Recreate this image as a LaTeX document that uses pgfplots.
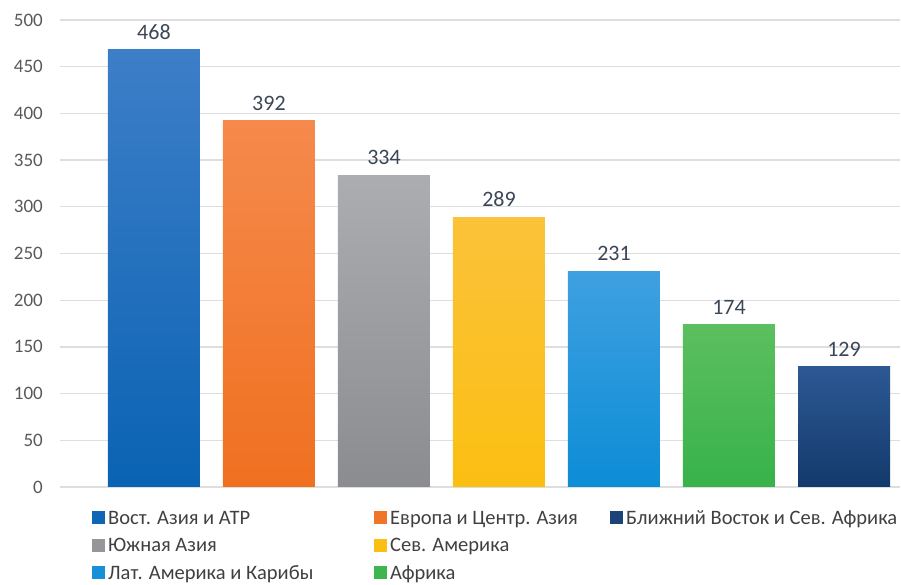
\documentclass[border=0pt]{standalone}
\usepackage{fontspec}
\setmainfont{Carlito}
\usepackage{pgfplots}
\pgfplotsset{compat=1.18}

\definecolor{gridc}{HTML}{DEDEDE}
\definecolor{tickc}{HTML}{595959}
\definecolor{labc}{HTML}{3B4656}
\definecolor{legc}{HTML}{404040}
% top / bottom colours of the shaded bars
\definecolor{aT}{HTML}{3D7EC8}\definecolor{aB}{HTML}{0A63B3}
\definecolor{bT}{HTML}{F58A4C}\definecolor{bB}{HTML}{F07020}
\definecolor{cT}{HTML}{ABADB0}\definecolor{cB}{HTML}{8A8C8F}
\definecolor{dT}{HTML}{FBC23A}\definecolor{dB}{HTML}{FBBF12}
\definecolor{eT}{HTML}{3FA0E0}\definecolor{eB}{HTML}{0C8DD6}
\definecolor{fT}{HTML}{5CBF5E}\definecolor{fB}{HTML}{38B24A}
\definecolor{gT}{HTML}{2C5893}\definecolor{gB}{HTML}{133A6C}

\pgfplotsset{
  onebar/.style n args={2}{ybar, bar width=92pt, bar shift=0pt, draw=none,
    top color=#1, bottom color=#2, forget plot},
  sq/.style={legend image code/.code={\fill[#1, draw=none] (0pt,-6.5pt) rectangle (13pt,6.5pt);}},
}

\begin{document}
\begin{tikzpicture}
\path[use as bounding box] (0,0) rectangle (901pt,585pt);
\begin{axis}[
  at={(60pt,98pt)}, anchor=south west,
  scale only axis, width=840pt, height=467pt,
  xmin=-0.817, xmax=6.487, ymin=0, ymax=500,
  ytick={0,50,...,500}, xtick=\empty,
  ymajorgrids, major grid style={draw=gridc, line width=1.3pt},
  axis line style={draw=none}, major tick length=0pt,
  /pgf/number format/assume math mode=true,
  yticklabel style={font=\fontsize{19}{19}\selectfont, text=tickc,
    inner sep=0pt, anchor=east, xshift=-17pt},
  nodes near coords,
  every node near coord/.append style={font=\fontsize{22}{22}\selectfont,
    text=labc, inner sep=0pt, anchor=south, yshift=10pt},
  clip=false,
  legend columns=3,
  legend cell align=left,
  legend style={at={(0.0381,-0.0471)}, anchor=north west, draw=none, fill=none,
    inner sep=0pt, row sep=10.5pt, column sep=0pt,
    nodes={inner sep=0pt, text height=15pt, text depth=2pt,
      font=\fontsize{20.5}{20.5}\selectfont, text=legc}},
]
\addplot[onebar={aT}{aB}] coordinates {(0,468)};
\addplot[onebar={bT}{bB}] coordinates {(1,392)};
\addplot[onebar={cT}{cB}] coordinates {(2,334)};
\addplot[onebar={dT}{dB}] coordinates {(3,289)};
\addplot[onebar={eT}{eB}] coordinates {(4,231)};
\addplot[onebar={fT}{fB}] coordinates {(5,174)};
\addplot[onebar={gT}{gB}] coordinates {(6,129)};

\addlegendimage{sq={fill=aB!90!aT}}
\addlegendentry{\hspace{3pt}\makebox[266pt][l]{Вост. Азия и АТР}}
\addlegendimage{sq={fill=bB!80!bT}}
\addlegendentry{\hspace{3pt}\makebox[220pt][l]{Европа и Центр. Азия}}
\addlegendimage{sq={fill=gB!70!gT}}
\addlegendentry{\hspace{3pt}Ближний Восток и Сев. Африка}
\addlegendimage{sq={fill=cB!70!cT}}
\addlegendentry{\hspace{3pt}Южная Азия}
\addlegendimage{sq={fill=dB}}
\addlegendentry{\hspace{3pt}Сев. Америка}
\addlegendimage{empty legend}
\addlegendentry{}
\addlegendimage{sq={fill=eB!80!eT}}
\addlegendentry{\hspace{3pt}Лат. Америка и Карибы}
\addlegendimage{sq={fill=fB!80!fT}}
\addlegendentry{\hspace{3pt}Африка}
\addlegendimage{empty legend}
\addlegendentry{}
\end{axis}
\end{tikzpicture}
\end{document}
